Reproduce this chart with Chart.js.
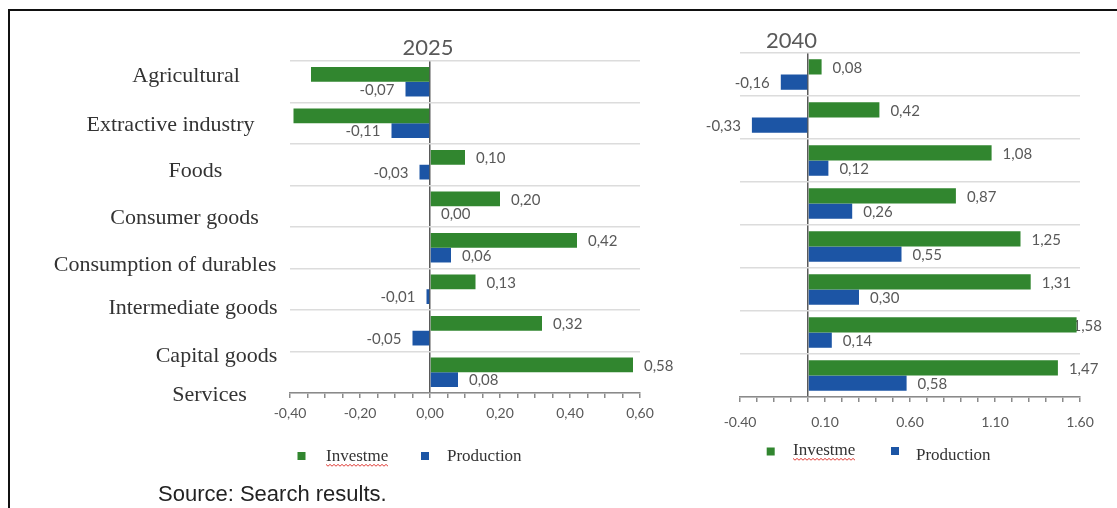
<!DOCTYPE html>
<html><head><meta charset="utf-8">
<script src="https://cdn.jsdelivr.net/npm/chart.js@4"></script>
<style>
html,body{margin:0;padding:0;background:#fff;}
body{width:1117px;height:508px;overflow:hidden;position:relative;}
#frame{position:absolute;left:8px;top:9px;width:1200px;height:600px;border-left:2px solid #111;border-top:2px solid #111;}
#cl{position:absolute;left:0;top:0;}
#cr{position:absolute;left:700px;top:0;}
#src{position:absolute;left:158px;top:481px;font:22px 'Liberation Sans',Arial,sans-serif;color:#222;line-height:26px;white-space:nowrap;}
</style></head><body>
<div id="frame"></div>
<canvas id="cl" width="700" height="508"></canvas>
<canvas id="cr" width="417" height="508"></canvas>
<div id="src">Source: Search results.</div>
<script>
// ---------- DATA ----------
const categories = ['Agricultural','Extractive industry','Foods','Consumer goods','Consumption of durables','Intermediate goods','Capital goods','Services'];
const seriesNames = ['Investme','Production'];
const invest2025 = [-0.34,-0.39,0.10,0.20,0.42,0.13,0.32,0.58];
const prod2025   = [-0.07,-0.11,-0.03,0.00,0.06,-0.01,-0.05,0.08];
const invest2040 = [0.08,0.42,1.08,0.87,1.25,1.31,1.58,1.47];
const prod2040   = [-0.16,-0.33,0.12,0.26,0.55,0.30,0.14,0.58];
const ticks2025 = [-0.40,-0.20,0.00,0.20,0.40,0.60];
const ticks2040 = [-0.40,0.10,0.60,1.10,1.60];
const minorPerMajor2025 = 4;
const minorPerMajor2040 = 5;
const titleLeft = '2025';
const titleRight = '2040';

// ---------- STYLE / LAYOUT ----------
const GREEN = '#31862f';
const BLUE = '#1c55a5';
const GRAY = '#595959';
// category label positions (left chart text column), page coords
const catLabelPos = [[186,76],[170.5,125],[195.5,171.5],[184.5,218.5],[165,265],[193,308.5],[216.5,356.5],[209.5,395]];

function fmt(v){ return (Math.round(v*100)/100).toFixed(2).replace('.',','); }
function allTicks(majors, sub){
  const out=[];
  for(let i=0;i<majors.length-1;i++){
    const a=majors[i], b=majors[i+1];
    for(let k=0;k<sub;k++) out.push(Math.round((a+(b-a)*k/sub)*10000)/10000);
  }
  out.push(majors[majors.length-1]);
  return out;
}

const valueLabels = {
  id:'valueLabels',
  beforeDatasetsDraw(chart, args, opts){
    const ctx=chart.ctx; ctx.save();
    ctx.font='15px Lato'; ctx.fillStyle=GRAY; ctx.textBaseline='middle'; ctx.textAlign='left';
    chart.data.datasets.forEach((ds,di)=>{
      const meta=chart.getDatasetMeta(di);
      meta.data.forEach((bar,i)=>{
        const v=ds.data[i]; const t=fmt(v); const w=ctx.measureText(t).width;
        let x;
        if(v>=0){ x=bar.x+11; if(x+w>opts.maxX) x=opts.maxX-w; }
        else { x=bar.x-11-w; if(x<opts.minX) return; }
        ctx.fillText(t,x,bar.y+1);
      });
    });
    ctx.restore();
  }
};
const decor = {
  id:'decor',
  afterDraw(chart, args, opts){
    const ctx=chart.ctx; ctx.save();
    // title
    ctx.font='22px Lato'; ctx.fillStyle=GRAY; ctx.textAlign='center'; ctx.textBaseline='middle';
    ctx.fillText(opts.title, opts.titleX, opts.titleY);
    // category labels
    if(opts.catLabels){
      ctx.font='22px "Liberation Serif"'; ctx.fillStyle='#333';
      opts.catLabels.forEach((p,i)=>ctx.fillText(chart.data.labels[i], p[0], p[1]));
    }
    // legend
    ctx.font='17px "Liberation Serif"'; ctx.textAlign='left';
    chart.data.datasets.forEach((ds,i)=>{
      const it=opts.legend[i];
      ctx.fillStyle=ds.backgroundColor;
      ctx.fillRect(it.sx-4, it.sy-4, 8, 8);
      ctx.fillStyle='#333';
      ctx.fillText(ds.label, it.tx, it.ty);
      if(i===0){
        const w=ctx.measureText(ds.label).width;
        ctx.strokeStyle='#e0403a'; ctx.lineWidth=1; ctx.beginPath();
        const y0=it.ty+8;
        for(let x=it.tx, k=0; x<=it.tx+w; x+=2, k++){
          const y=y0+(k%2?1.2:-0.6);
          if(k===0) ctx.moveTo(x,y); else ctx.lineTo(x,y);
        }
        ctx.stroke();
      }
    });
    ctx.restore();
  }
};

function makeChart(id, inv, prod, majors, sub, o){
  const tickVals = allTicks(majors, sub);
  return new Chart(document.getElementById(id), {
    type:'bar',
    data:{
      labels:categories,
      datasets:[
        {label:seriesNames[0], data:inv, backgroundColor:GREEN, categoryPercentage:0.71, barPercentage:1.0},
        {label:seriesNames[1], data:prod, backgroundColor:BLUE, categoryPercentage:0.71, barPercentage:1.0}
      ]
    },
    options:{
      indexAxis:'y', responsive:false, animation:false, devicePixelRatio:1, events:[],
      layout:{padding:o.padding},
      plugins:{
        legend:{display:false}, tooltip:{enabled:false},
        valueLabels:{minX:o.minX, maxX:o.maxX},
        decor:{title:o.title, titleX:o.titleX, titleY:o.titleY, catLabels:o.catLabels, legend:o.legend}
      },
      scales:{
        x:{
          type:'linear', min:majors[0], max:majors[majors.length-1],
          afterBuildTicks(scale){ scale.ticks = tickVals.map(v=>({value:v})); },
          afterFit(scale){ scale.height = 30; },
          ticks:{autoSkip:false, maxRotation:0, minRotation:0, padding:o.tickPad, font:{family:'Lato', size:14}, color:GRAY,
            callback(v){ return majors.some(m=>Math.abs(m-v)<1e-9) ? fmt(v) : ''; }},
          grid:{drawOnChartArea:true, drawTicks:true, tickLength:5, tickColor:'#8a8a8a', tickWidth:1.5, lineWidth:1.5,
            color:(c)=> (c.tick && Math.abs(c.tick.value)<1e-9) ? '#5a5a5a' : 'rgba(0,0,0,0)'},
          border:{display:true, color:'#8a8a8a', width:1.5}
        },
        y:{
          type:'category', offset:true,
          ticks:{display:false},
          afterFit(scale){ scale.width = 0; },
          grid:{offset:true, color:'#dcdcdc', lineWidth:1.5, drawTicks:false},
          border:{display:false}
        }
      }
    },
    plugins:[valueLabels, decor]
  });
}

makeChart('cl', invest2025, prod2025, ticks2025, minorPerMajor2025, {
  padding:{left:290, right:60, top:61, bottom:85},
  minX:290, maxX:700, tickPad:7,
  title:titleLeft, titleX:428, titleY:47.5,
  catLabels:catLabelPos,
  legend:[{sx:301.5, sy:456, tx:326, ty:457},{sx:425, sy:456, tx:447, ty:457}]
});
const OFF=700;
makeChart('cr', invest2040, prod2040, ticks2040, minorPerMajor2040, {
  padding:{left:40, right:37, top:53, bottom:81},
  minX:0, maxX:1102-OFF, tickPad:12,
  title:titleRight, titleX:791.5-OFF, titleY:40.5,
  catLabels:null,
  legend:[{sx:770.7-OFF, sy:451.5, tx:793-OFF, ty:451},{sx:895-OFF, sy:451, tx:916-OFF, ty:455.5}]
});
</script>
</body></html>
